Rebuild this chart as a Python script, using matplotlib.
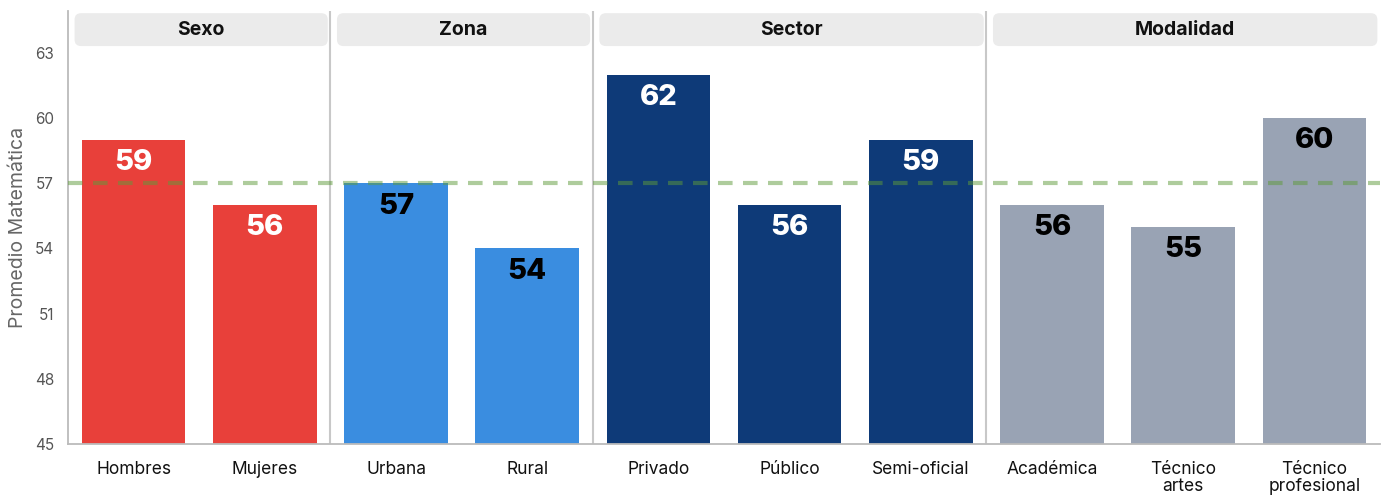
import matplotlib
matplotlib.use("Agg")
import matplotlib.pyplot as plt
from matplotlib.patches import FancyBboxPatch
from matplotlib.transforms import blended_transform_factory

# ---- data ----
groups = ["Sexo", "Zona", "Sector", "Modalidad"]
group_sizes = [2, 2, 3, 3]
categories = ["Hombres", "Mujeres", "Urbana", "Rural", "Privado", "Público",
              "Semi-oficial", "Académica", "Técnico\nartes", "Técnico\nprofesional"]
values = [59, 56, 57, 54, 62, 56, 59, 56, 55, 60]
group_colors = ["#E8403A", "#3A8DE0", "#0E3A78", "#99A3B4"]
label_colors = ["white", "black", "white", "black"]
reference = 57
yticks = [45, 48, 51, 54, 57, 60, 63]

plt.rcParams['font.family'] = ['Inter', 'DejaVu Sans']

fig = plt.figure(figsize=(13.81, 4.95), dpi=100)
ax = fig.add_axes([68/1381, 51/495, 1312/1381, 433/495])

bar_colors, txt_colors = [], []
for g, n in enumerate(group_sizes):
    bar_colors += [group_colors[g]] * n
    txt_colors += [label_colors[g]] * n

xs = list(range(len(values)))
ax.bar(xs, [v - 45 for v in values], bottom=45, width=0.79, color=bar_colors, zorder=2)
for x, v, c in zip(xs, values, txt_colors):
    ax.text(x, v - 1.05, f"{v}", ha='center', va='center', color=c,
            fontsize=21, fontweight='heavy', zorder=4)

ax.axhline(reference, color='#5E9A3A', alpha=0.5, lw=3, ls=(0, (3.5, 2.5)), zorder=3)

ax.set_xlim(-0.5, len(values) - 0.5)
ax.set_ylim(45, 64.93)
ax.set_yticks(yticks)
ax.set_yticklabels([str(t) for t in yticks], color='#555555', fontsize=11)
ax.set_xticks(xs)
ax.set_xticklabels(categories, fontsize=12.5, color='#111111', linespacing=1.0)
ax.tick_params(axis='both', length=0)
ax.tick_params(axis='x', pad=12)
ax.tick_params(axis='y', pad=10)
ax.set_ylabel("Promedio Matemática", fontsize=14, color='#666666', labelpad=6)

for s in ['top', 'right']:
    ax.spines[s].set_visible(False)
for s in ['left', 'bottom']:
    ax.spines[s].set_color('#BBBBBB')
    ax.spines[s].set_linewidth(1.3)

# separators and strips
trans = blended_transform_factory(ax.transData, ax.transAxes)
start = -0.5
for g, n in enumerate(group_sizes):
    end = start + n
    if g < len(group_sizes) - 1:
        ax.axvline(end, color='#C8C8C8', lw=1.5, zorder=1)
    x0, x1 = start + 0.05, end - 0.02
    box = FancyBboxPatch((x0, 0.919), x1 - x0, 0.076,
                         boxstyle="round,pad=0,rounding_size=0.05",
                         mutation_aspect=0.3, transform=trans,
                         facecolor='#EBEBEB', edgecolor='none', zorder=1,
                         clip_on=False)
    ax.add_patch(box)
    ax.text((x0 + x1) / 2, 0.957, groups[g], transform=trans, ha='center',
            va='center', fontsize=14, fontweight='bold', color='#111111', zorder=2)
    start = end

fig.savefig("out.png", dpi=100)
